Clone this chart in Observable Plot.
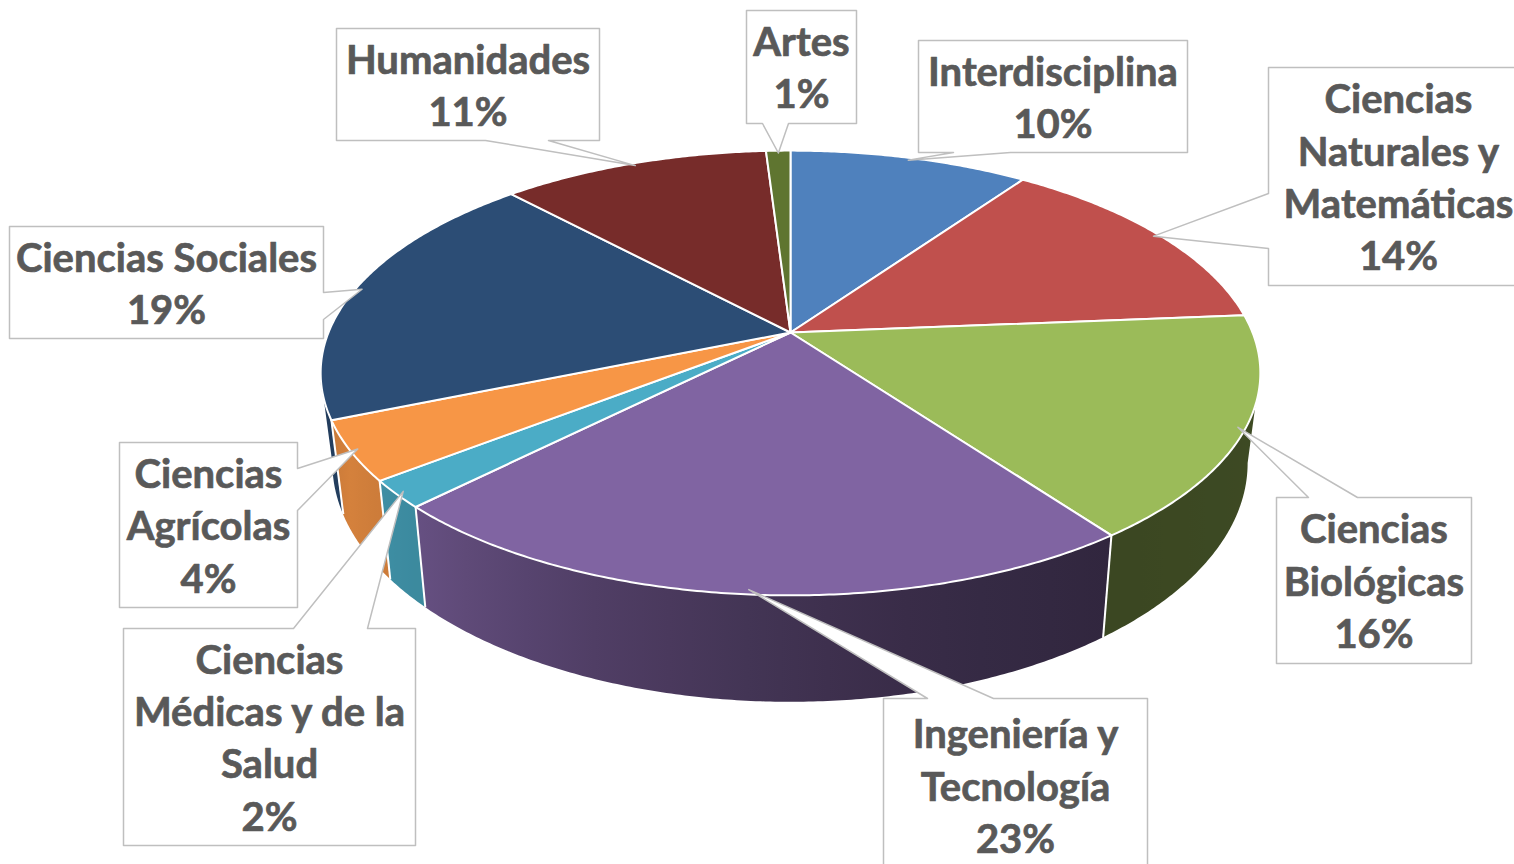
<!DOCTYPE html>
<html><head><meta charset="utf-8">
<script src="https://cdn.jsdelivr.net/npm/d3@7"></script>
<script src="https://cdn.jsdelivr.net/npm/@observablehq/plot@0.6"></script>
<style>html,body{margin:0;padding:0;background:#fff;overflow:hidden;} #chart svg{display:block}</style>
</head><body><div id="chart"></div>
<script>
// ---- data ----
const categories = ["Interdisciplina","Ciencias Naturales y Matemáticas","Ciencias Biológicas","Ingeniería y Tecnología","Ciencias Médicas y de la Salud","Ciencias Agrícolas","Ciencias Sociales","Humanidades","Artes"];
const shares = [9.8, 13.9, 16.2, 22.6, 2.0, 4.3, 19.2, 11.0, 1.0];
// ---- styles / layout ----
const colors = ["#4F81BD","#C0504D","#9BBB59","#8064A2","#4BACC6","#F79646","#2C4D75","#772C2A","#5F7530"];
const labelLines = ["Interdisciplina","Ciencias\nNaturales y\nMatemáticas","Ciencias\nBiológicas","Ingeniería y\nTecnología","Ciencias\nMédicas y de la\nSalud","Ciencias\nAgrícolas","Ciencias Sociales","Humanidades","Artes"];
const boxes = [[918,40,1187,152],[1268,67,1528,285],[1276,497,1471,663],[883,698,1147,880],[123,628,415,845],[119,442,297,607],[9,226,323,338],[336,28,599,140],[746,10,856,123]];
const pointerEdge = ["bottom","left","top","top","top","right","right","bottom","bottom"];
const pointerBase = [[953,1010],[193,248],[1308,1357],[927,993],[293,367],[468,510],[292,319],[485,548],[762,788]];

const W = 1514, H = 864;
const geo = {cx: 790, cy: 332, A: 462, B: 215, k: -0.182, D: 87.5, s: 0.974};
const deg = Math.PI / 180;

function proj(t, depth = 0, r = 1) {
  const X = r * Math.sin(t), Y = -r * Math.cos(t), w = 1 + geo.k * Y;
  const sc = depth ? geo.s : 1;
  return [geo.cx + sc * geo.A * X / w, geo.cy + (geo.B * Y + depth) / w];
}

const total = d3.sum(shares);
let acc = 0;
const slices = categories.map((name, i) => {
  const a0 = acc / total * 2 * Math.PI; acc += shares[i];
  const a1 = acc / total * 2 * Math.PI;
  return {i, name, a0, a1, color: colors[i], share: shares[i]};
});

// top faces
const topPts = [];
for (const s of slices) {
  const c = proj(0, 0, 0);
  const n = Math.max(2, Math.ceil((s.a1 - s.a0) / (0.5 * deg)));
  topPts.push({z: s.name, x: c[0], y: c[1], col: s.color});
  for (let j = 0; j <= n; j++) {
    const [x, y] = proj(s.a0 + (s.a1 - s.a0) * j / n);
    topPts.push({z: s.name, x, y, col: s.color});
  }
  topPts.push({z: s.name, x: c[0], y: c[1], col: s.color});
}

// side faces (one area per slice, shaded with a horizontal gradient)
const tMin = Math.acos(geo.k), tMax = 2 * Math.PI - tMin;
const shade = d3.scaleLinear()
  .domain([100,144,165,180,200,225,240,260].map(d => d * deg))
  .range([0.40,0.38,0.43,0.5,0.62,0.8,0.86,0.72]).clamp(true);
const sidePts = [], grads = [];
for (const s of slices) {
  const lo = Math.max(s.a0, tMin), hi = Math.min(s.a1, tMax);
  if (hi <= lo) continue;
  const n = Math.max(2, Math.ceil((hi - lo) / (0.5 * deg)));
  const id = "side" + s.i;
  for (let j = 0; j <= n; j++) {
    const t = lo + (hi - lo) * j / n;
    const [x1, y1] = proj(t); const [x2, y2] = proj(t, geo.D);
    sidePts.push({z: s.name, x1, y1, x2, y2, col: `url(#${id})`});
  }
  const base = d3.rgb(s.color);
  const xa = proj(hi)[0], xb = proj(lo)[0];
  const stops = d3.range(0, 11).map(j => {
    const t = hi - (hi - lo) * j / 10, f = shade(t);
    return {o: (proj(t)[0] - xa) / (xb - xa), c: d3.rgb(base.r * f, base.g * f, base.b * f).formatHex()};
  });
  grads.push({id, xa, xb, stops});
}
const edges = slices.filter(s => s.a0 > tMin && s.a0 < tMax).map(s => {
  const [x1, y1] = proj(s.a0); const [x2, y2] = proj(s.a0, geo.D);
  return {x1, y1, x2, y2};
});

// callouts
const callPts = [];
const labels = [];
slices.forEach((s, i) => {
  const tip = proj((s.a0 + s.a1) / 2, 0, 0.985);
  const [x1, y1, x2, y2] = boxes[i];
  const [b0, b1] = pointerBase[i];
  const e = pointerEdge[i];
  const pts = [[x1, y1]];
  if (e === "top") pts.push([b0, y1], tip, [b1, y1]);
  pts.push([x2, y1]);
  if (e === "right") pts.push([x2, b0], tip, [x2, b1]);
  pts.push([x2, y2]);
  if (e === "bottom") pts.push([b1, y2], tip, [b0, y2]);
  pts.push([x1, y2]);
  if (e === "left") pts.push([x1, b1], tip, [x1, b0]);
  pts.push([x1, y1]);
  pts.forEach(([x, y]) => callPts.push({z: s.name, x, y}));
  labels.push({x: (x1 + x2) / 2, y: (y1 + Math.min(y2, 872)) / 2 - 1.5, text: labelLines[i] + "\n" + Math.round(s.share / total * 100) + "%"});
});

const chart = Plot.plot({
  width: W, height: H, margin: 0,
  x: {domain: [0, W], range: [0, W], axis: null},
  y: {domain: [0, H], range: [0, H], axis: null},
  color: {type: "identity"},
  style: {background: "white", overflow: "hidden"},
  marks: [
    Plot.area(sidePts, {x1: "x1", y1: "y1", x2: "x2", y2: "y2", z: "z", fill: "col"}),
    Plot.link(edges, {x1: "x1", y1: "y1", x2: "x2", y2: "y2", stroke: "white", strokeWidth: 2}),
    Plot.line(topPts, {x: "x", y: "y", z: "z", fill: "col", stroke: "white", strokeWidth: 2, strokeLinejoin: "round"}),
    Plot.line(callPts, {x: "x", y: "y", z: "z", fill: "white", stroke: "#bfbfbf", strokeWidth: 1.5}),
    Plot.text(labels, {x: "x", y: "y", text: "text", fontSize: 40, fontWeight: "bold", fontFamily: "Lato", fill: "#595959", stroke: "#595959", strokeWidth: 0.7, lineHeight: 1.31})
  ]
});
const defs = d3.select(chart).insert("defs", ":first-child");
grads.forEach(g => {
  const lg = defs.append("linearGradient").attr("id", g.id).attr("gradientUnits", "userSpaceOnUse")
    .attr("x1", g.xa).attr("x2", g.xb).attr("y1", 0).attr("y2", 0);
  g.stops.forEach(st => lg.append("stop").attr("offset", st.o).attr("stop-color", st.c));
});
document.getElementById("chart").appendChild(chart);
</script>
</body></html>
